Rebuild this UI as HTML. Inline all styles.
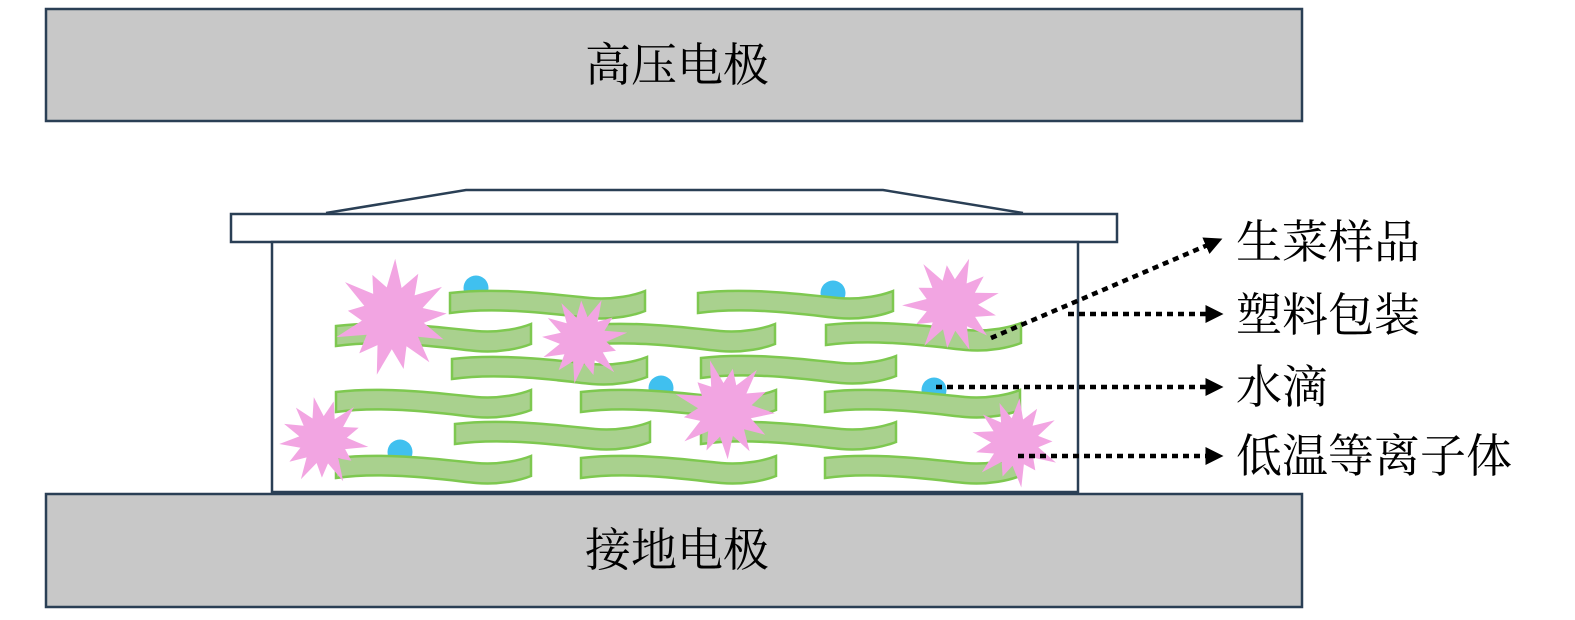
<!DOCTYPE html>
<html><head><meta charset="utf-8"><style>
html,body{margin:0;padding:0;background:#fff;}
svg{display:block}
text{font-family:"Liberation Serif","Noto Serif CJK SC","Noto Serif CJK JP",serif;fill:#000;}
</style></head><body>
<svg width="1575" height="620" viewBox="0 0 1575 620" xmlns="http://www.w3.org/2000/svg">
<defs>
<path id="leaf" d="M0,4 C50,-2 110,6 140,9 C165,11 185,6 195,2 L195,22 C185,26 165,31 140,29 C110,26 50,17 0,24 Z" fill="#a9d18e" stroke="#7ec850" stroke-width="2.5"/>
<marker id="ah" markerWidth="4" markerHeight="4" refX="1" refY="2" orient="auto" markerUnits="strokeWidth">
<path d="M0,0 L4,2 L0,4 Z" fill="#000"/></marker>
</defs>
<rect x="46" y="9" width="1256" height="112" fill="#c8c8c8" stroke="#2a3f55" stroke-width="2.5"/>
<text x="677" y="81" font-size="46" text-anchor="middle">高压电极</text>
<rect x="46" y="494" width="1256" height="113" fill="#c8c8c8" stroke="#2a3f55" stroke-width="2.5"/>
<text x="677" y="566" font-size="46" text-anchor="middle">接地电极</text>

<path d="M326,213 L466,190 L883,190 L1023,213" fill="#fff" stroke="#2a3f55" stroke-width="2.5"/>
<rect x="231" y="214" width="886" height="28" fill="#fff" stroke="#2a3f55" stroke-width="2.5"/>
<rect x="272" y="242" width="806" height="250" fill="#fff" stroke="#2a3f55" stroke-width="2.5"/>

<!-- water drops (under leaves) -->
<g fill="#40c0ef">
<circle cx="476" cy="288" r="12.5"/>
<circle cx="833" cy="293" r="12.5"/>
<circle cx="661" cy="388" r="12.5"/>
<circle cx="934" cy="390" r="12.5"/>
<circle cx="400" cy="452" r="12.5"/>
</g>

<!-- leaves -->
<use href="#leaf" x="450" y="289"/>
<use href="#leaf" x="698" y="289"/>
<use href="#leaf" x="336" y="322"/>
<use href="#leaf" x="580" y="322"/>
<use href="#leaf" x="826" y="321"/>
<use href="#leaf" x="452" y="355"/>
<use href="#leaf" x="701" y="354"/>
<use href="#leaf" x="336" y="388"/>
<use href="#leaf" x="581" y="388"/>
<use href="#leaf" x="825" y="388"/>
<use href="#leaf" x="455" y="420"/>
<use href="#leaf" x="701" y="420"/>
<use href="#leaf" x="336" y="454"/>
<use href="#leaf" x="581" y="454"/>
<use href="#leaf" x="825" y="454"/>

<!-- stars -->
<g fill="#f2a5e2" id="stars"></g>

<!-- arrows -->
<g stroke="#000" stroke-width="4.5" stroke-dasharray="6,5" fill="none">
<line x1="991" y1="338" x2="1210" y2="244" marker-end="url(#ah)"/>
<line x1="1068" y1="314" x2="1210" y2="314" marker-end="url(#ah)"/>
<line x1="936" y1="387" x2="1210" y2="387" marker-end="url(#ah)"/>
<line x1="1018" y1="456" x2="1210" y2="456" marker-end="url(#ah)"/>
</g>
<g font-size="46">
<text x="1236" y="258">生菜样品</text>
<text x="1236" y="331">塑料包装</text>
<text x="1236" y="403">水滴</text>
<text x="1236" y="472">低温等离子体</text>
</g>
</svg>
<script>
(function(){
var g=document.getElementById('stars');
var stars=[[393,318,60,1],[583,340,45,2],[952,305,50,3],[323,440,46,4],[725,410,52,5],[1015,442,46,6]];
stars.forEach(function(s){
 var cx=s[0],cy=s[1],r=s[2],seed=s[3],n=13,pts=[];
 for(var i=0;i<n*2;i++){
  var a=Math.PI*i/n+seed*0.4;
  var k=i%2==0?(0.75+0.25*Math.abs(Math.sin(seed*7+i*2.3))):0.52;
  pts.push((cx+Math.cos(a)*r*k).toFixed(1)+','+(cy+Math.sin(a)*r*k).toFixed(1));
 }
 var p=document.createElementNS('http://www.w3.org/2000/svg','polygon');
 p.setAttribute('points',pts.join(' '));
 g.appendChild(p);
});
})();
</script>
</body></html>
